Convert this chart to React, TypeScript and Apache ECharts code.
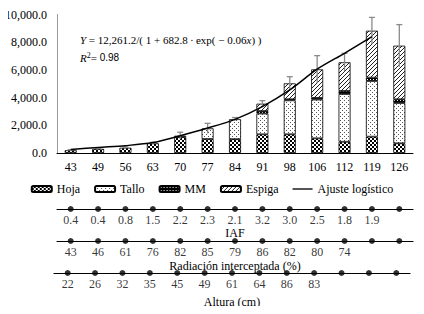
import React, { useEffect, useRef } from "react";
import * as echarts from "echarts";

const categories = ["43", "49", "56", "63", "70", "77", "84", "91", "98", "106", "112", "119", "126"];
const hoja = [200, 300, 380, 700, 1150, 1010, 1000, 1350, 1350, 1060, 810, 1180, 700];
const tallo = [null, null, null, null, 100, 770, 1440, 1500, 2450, 2800, 3450, 4020, 2910];
const mm = [null, null, null, null, null, null, null, 180, 80, 120, 220, 240, 270];
const espiga = [null, null, null, null, null, null, null, 530, 1150, 2060, 2070, 3390, 3870];
const errorBars = [40, 40, 60, 70, 250, 360, 120, 220, 480, 990, 650, 960, 1520];
const ajuste = [250, 400, 530, 750, 1250, 1800, 2430, 3350, 4550, 6050, 7200, 8400, null];
const yTicks = { min: 0, max: 10000, interval: 2000 };
const iaf = [0.4, 0.4, 0.8, 1.5, 2.2, 2.3, 2.1, 3.2, 3.0, 2.5, 1.8, 1.9, null];
const radiacion = [43, 46, 61, 76, 82, 85, 79, 86, 82, 80, 74, null, null];
const altura = [22, 26, 32, 35, 45, 49, 61, 64, 86, 83, null, null, null];

const FONT = "'Liberation Serif', 'Times New Roman', serif";

function makePattern(size: number, draw: (ctx: CanvasRenderingContext2D) => void) {
  const c = document.createElement("canvas");
  c.width = size;
  c.height = size;
  const ctx = c.getContext("2d") as CanvasRenderingContext2D;
  draw(ctx);
  return { image: c, repeat: "repeat" } as any;
}

export default function App() {
  const ref = useRef<HTMLDivElement>(null);
  useEffect(() => {
    if (!ref.current) return;
    const chart = echarts.init(ref.current, undefined, { renderer: "svg" });

    const hojaPat = makePattern(4, (ctx) => {
      ctx.fillStyle = "#000";
      ctx.fillRect(0, 0, 4, 4);
      ctx.fillStyle = "#fff";
      ctx.fillRect(0, 0, 2, 2);
      ctx.fillRect(2, 2, 2, 2);
    });
    const talloPat = makePattern(4, (ctx) => {
      ctx.fillStyle = "#fff";
      ctx.fillRect(0, 0, 4, 4);
      ctx.fillStyle = "#555";
      ctx.fillRect(0, 0, 1, 1);
      ctx.fillRect(2, 2, 1, 1);
    });
    const mmPat = makePattern(3, (ctx) => {
      ctx.fillStyle = "#000";
      ctx.fillRect(0, 0, 3, 3);
      ctx.fillStyle = "#fff";
      ctx.fillRect(1, 1, 1, 1);
    });
    const espigaPat = makePattern(4, (ctx) => {
      ctx.fillStyle = "#fff";
      ctx.fillRect(0, 0, 4, 4);
      ctx.fillStyle = "#222";
      ctx.fillRect(0, 3, 1, 1);
      ctx.fillRect(1, 2, 1, 1);
      ctx.fillRect(2, 1, 1, 1);
      ctx.fillRect(3, 0, 1, 1);
    });

    const totals = categories.map(
      (_, i) => (hoja[i] || 0) + (tallo[i] || 0) + (mm[i] || 0) + (espiga[i] || 0)
    );

    const barBase = (name: string, data: (number | null)[], pat: any) => ({
      name,
      type: "bar",
      stack: "total",
      barWidth: 12,
      data,
      xAxisIndex: 0,
      yAxisIndex: 0,
      itemStyle: { color: pat, borderColor: "#000", borderWidth: 0.8 },
      z: 2,
    });

    const subGrid = (idx: number, values: (number | null)[], digits: number) => ({
      type: "scatter",
      xAxisIndex: idx,
      yAxisIndex: idx,
      symbolSize: 6,
      itemStyle: { color: "#000" },
      silent: true,
      data: categories.map((_, i) => [i, 0]),
      label: {
        show: true,
        position: "bottom",
        distance: 3,
        color: "#000",
        fontFamily: FONT,
        fontSize: 12,
        lineHeight: 10,
        formatter: (p: any) => {
          const v = values[p.dataIndex];
          return v == null ? "" : v.toFixed(digits);
        },
      },
    });

    const subX = (idx: number, name: string, gap: number) => ({
      type: "category",
      gridIndex: idx,
      data: categories,
      axisLine: { onZero: true, lineStyle: { color: "#000", width: 1.2 } },
      axisTick: { show: false },
      axisLabel: { show: false },
      name,
      nameLocation: "middle",
      nameGap: gap,
      nameTextStyle: { fontFamily: FONT, fontSize: 12, color: "#000", lineHeight: 10 },
    });
    const subY = (idx: number) => ({
      type: "value",
      gridIndex: idx,
      min: -1,
      max: 1,
      show: false,
    });

    chart.setOption({
      animation: false,
      textStyle: { fontFamily: FONT },
      grid: [
        { left: 57, right: 11, top: 14.5, bottom: 161 },
        { left: 57, right: 11, top: 205, height: 8 },
        { left: 57, right: 11, top: 237, height: 8 },
        { left: 54, right: 14, top: 269, height: 8 },
      ],
      xAxis: [
        {
          type: "category",
          gridIndex: 0,
          data: categories,
          axisLine: { lineStyle: { color: "#000", width: 1 } },
          axisTick: { show: false },
          axisLabel: { color: "#000", fontFamily: FONT, fontSize: 12, margin: 8 },
        },
        subX(1, "IAF", 15),
        subX(2, "Radiación interceptada (%)", 16),
        subX(3, "Altura (cm)", 20),
      ],
      yAxis: [
        {
          type: "value",
          gridIndex: 0,
          min: yTicks.min,
          max: yTicks.max,
          interval: yTicks.interval,
          splitLine: { show: false },
          axisLine: { show: true, lineStyle: { color: "#999", width: 1 } },
          axisTick: { show: false },
          axisLabel: {
            color: "#000",
            fontFamily: FONT,
            fontSize: 12,
            margin: 10,
            formatter: (v: number) =>
              v.toLocaleString("en-US", { minimumFractionDigits: 1, maximumFractionDigits: 1 }),
          },
        },
        subY(1),
        subY(2),
        subY(3),
      ],
      legend: {
        data: [
          "Hoja",
          "Tallo",
          "MM",
          "Espiga",
          { name: "Ajuste logístico", icon: "path://M0,0H30V2H0Z" },
        ],
        top: 178,
        left: "center",
        itemWidth: 20,
        itemHeight: 6,
        itemGap: 14,
        textStyle: { fontFamily: FONT, fontSize: 12, color: "#000" },
      },
      graphic: [
        {
          type: "text",
          left: 80,
          top: 34,
          style: {
            text: "{i|Y} = 12,261.2/( 1 + 682.8 ∙ exp( − 0.06{i|x}) )",
            fontFamily: FONT,
            fontSize: 11,
            fill: "#000",
            rich: {
              i: { fontStyle: "italic", fontFamily: FONT, fontSize: 11 },
            },
          },
        },
        {
          type: "text",
          left: 80,
          top: 51,
          style: {
            text: "{i|R}{s|2}= {n|0.98}",
            fontFamily: FONT,
            fontSize: 11,
            fill: "#000",
            rich: {
              i: { fontStyle: "italic", fontFamily: FONT, fontSize: 11 },
              s: { fontFamily: FONT, fontSize: 8, verticalAlign: "top", padding: [0, 0, 5, 0] },
              n: { fontFamily: "'Liberation Sans', Arial, sans-serif", fontSize: 10 },
            },
          },
        },
      ],
      series: [
        barBase("Hoja", hoja, hojaPat),
        barBase("Tallo", tallo, talloPat),
        barBase("MM", mm, mmPat),
        barBase("Espiga", espiga, espigaPat),
        {
          type: "custom",
          name: "err",
          xAxisIndex: 0,
          yAxisIndex: 0,
          silent: true,
          z: 4,
          encode: { x: 0, y: 1 },
          data: categories.map((_, i) => [i, totals[i], errorBars[i]]),
          renderItem: (params: any, api: any) => {
            const x = api.value(0);
            const t = api.value(1);
            const e = api.value(2);
            const top = api.coord([x, t + e]);
            const bot = api.coord([x, t - e]);
            const st = { stroke: "#8a8a8a", lineWidth: 1.3 };
            return {
              type: "group",
              children: [
                { type: "line", shape: { x1: top[0], y1: top[1], x2: bot[0], y2: bot[1] }, style: st },
                { type: "line", shape: { x1: top[0] - 3, y1: top[1], x2: top[0] + 3, y2: top[1] }, style: st },
              ],
            };
          },
        },
        {
          name: "Ajuste logístico",
          type: "line",
          xAxisIndex: 0,
          yAxisIndex: 0,
          data: ajuste,
          smooth: 0.3,
          symbol: "none",
          lineStyle: { color: "#000", width: 1.5 },
          itemStyle: { color: "#000" },
          z: 6,
        },
        subGrid(1, iaf, 1),
        subGrid(2, radiacion, 0),
        subGrid(3, altura, 0),
      ],
    } as any);
    return () => chart.dispose();
  }, []);
  return <div ref={ref} style={{ width: 424, height: 314, margin: -8 }} />;
}
